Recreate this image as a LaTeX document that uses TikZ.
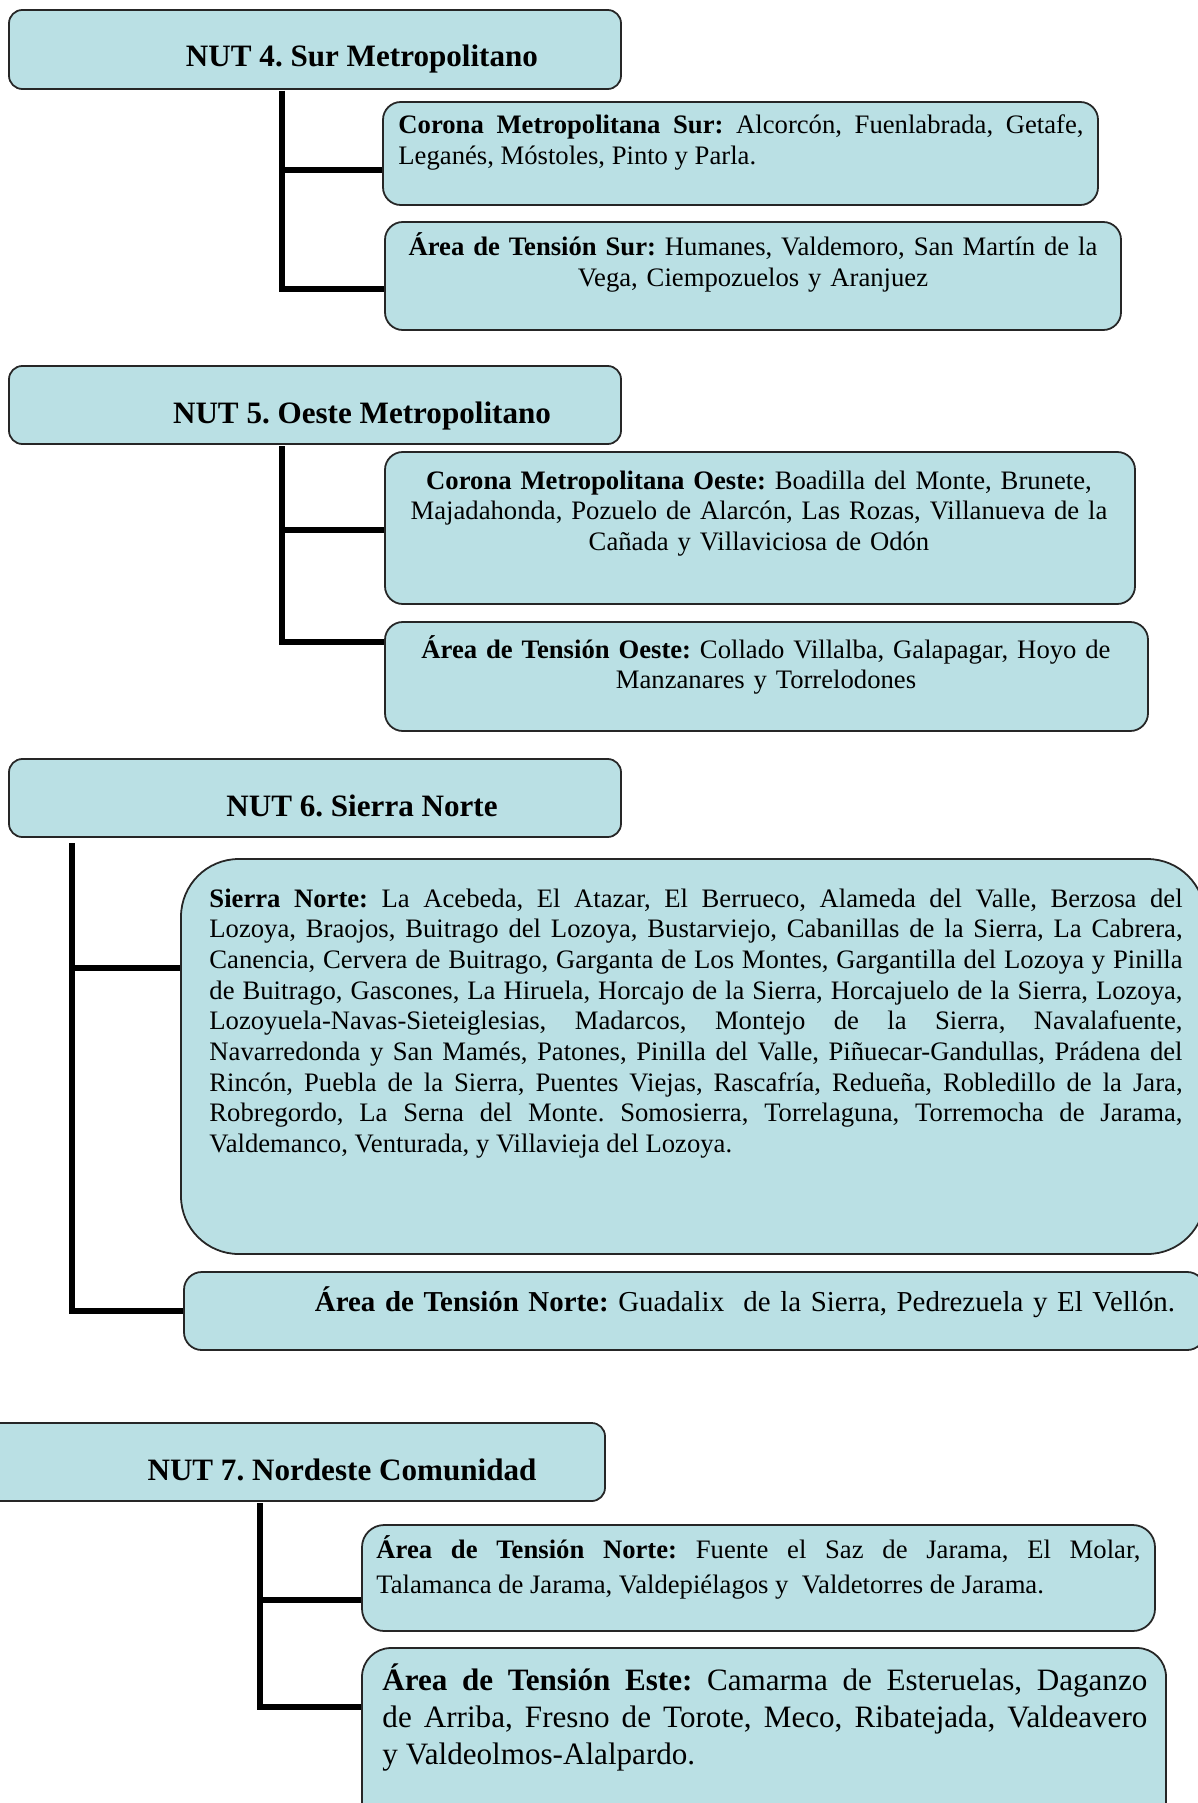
\documentclass[tikz,border=0pt]{standalone}
\usepackage{fontspec}
\setmainfont{Liberation Serif}
\usetikzlibrary{fit}
\definecolor{zonefill}{RGB}{186,224,228}
\frenchspacing

\begin{document}
\begin{tikzpicture}[x=0.45pt, y=-0.45pt,
    zone/.style={draw=black!85, line width=0.8pt, fill=zonefill, rounded corners=8pt, inner sep=0pt},
    nut/.style={zone, rounded corners=6pt},
    head/.style={font=\fontsize{14}{16.8}\selectfont\bfseries, anchor=base, inner sep=0pt},
    desc/.style={font=\fontsize{12}{13.8}\selectfont, anchor=base, inner sep=0pt, align=center, text width=#1},
    just/.style={font=\fontsize{12}{13.8}\selectfont, anchor=base west, inner sep=0pt, align=justify, text width=#1,
        execute at begin node={\hyphenpenalty=10000\tolerance=9000}},
    trunk/.style={line width=2.3pt}
]
\useasboundingbox (0,0) rectangle (1198,1803);
% NUT 4
\node[nut, fit={(9,10) (621,89)}] (nut4) {};
\node[head] (nut4t) at (362,67) {NUT 4. Sur Metropolitano};
\node[zone, fit={(383,102) (1098,205)}] (corS) {};
\node[just=308.3pt] (corSt) at (398,134) {\textbf{Corona Metropolitana Sur:} Alcorcón, Fuenlabrada, Getafe,\linebreak Leganés, Móstoles, Pinto y Parla.};
\node[zone, fit={(385,222) (1121,330)}] (tenS) {};
\node[desc=315pt] (tenSt) at (753,256) {\textbf{Área de Tensión Sur:} Humanes, Valdemoro, San Martín de la\\Vega, Ciempozuelos y Aranjuez};
\coordinate (top4) at (282,91);
\draw[trunk] (top4) |- (corS.west |- 0,170);
\draw[trunk] (top4) |- (tenS.west |- 0,289);
% NUT 5
\node[nut, fit={(9,366) (621,444)}] (nut5) {};
\node[head] (nut5t) at (362,423) {NUT 5. Oeste Metropolitano};
\node[zone, fit={(385,452) (1135,604)}] (corO) {};
\node[desc=330pt] (corOt) at (759,489) {\textbf{Corona Metropolitana Oeste:} Boadilla del Monte, Brunete,\\Majadahonda, Pozuelo de Alarcón, Las Rozas, Villanueva de la\\Cañada y Villaviciosa de Odón};
\node[zone, fit={(385,622) (1148,731)}] (tenO) {};
\node[desc=333pt] (tenOt) at (766,658) {\textbf{Área de Tensión Oeste:} Collado Villalba, Galapagar, Hoyo de\\Manzanares y Torrelodones};
\coordinate (top5) at (282,446);
\draw[trunk] (top5) |- (corO.west |- 0,530);
\draw[trunk] (top5) |- (tenO.west |- 0,642);
% NUT 6
\node[nut, fit={(9,759) (621,837)}] (nut6) {};
\node[head] (nut6t) at (362,816) {NUT 6. Sierra Norte};
\node[zone, rounded corners=26pt, fit={(181,859) (1205,1254)}] (sierra) {};
\node[just=437.9pt] (sierrat) at (209,907) {\textbf{Sierra Norte:} La Acebeda, El Atazar, El Berrueco, Alameda del Valle, Berzosa del\linebreak
Lozoya, Braojos, Buitrago del Lozoya, Bustarviejo, Cabanillas de la Sierra, La Cabrera,\linebreak
Canencia, Cervera de Buitrago, Garganta de Los Montes, Gargantilla del Lozoya y Pinilla\linebreak
de Buitrago, Gascones, La Hiruela, Horcajo de la Sierra, Horcajuelo de la Sierra, Lozoya,\linebreak
Lozoyuela-Navas-Sieteiglesias, Madarcos, Montejo de la Sierra, Navalafuente,\linebreak
Navarredonda y San Mamés, Patones, Pinilla del Valle, Piñuecar-Gandullas, Prádena del\linebreak
Rincón, Puebla de la Sierra, Puentes Viejas, Rascafría, Redueña, Robledillo de la Jara,\linebreak
Robregordo, La Serna del Monte. Somosierra, Torrelaguna, Torremocha de Jarama,\linebreak
Valdemanco, Venturada, y Villavieja del Lozoya.};
\node[zone, fit={(184,1272) (1205,1350)}] (tenN6) {};
\node[desc=420pt, font=\fontsize{13}{15}\selectfont] (tenN6t) at (745,1311) {\textbf{Área de Tensión Norte:} Guadalix\ \ de la Sierra, Pedrezuela y El Vellón.};
\coordinate (top6) at (72,843);
\draw[trunk] (top6) |- (sierra.west |- 0,968);
\draw[trunk] (top6) |- (tenN6.west |- 0,1311);
% NUT 7
\node[nut, fit={(-20,1423) (605,1501)}] (nut7) {};
\node[head] (nut7t) at (342,1480) {NUT 7. Nordeste Comunidad};
\node[zone, rounded corners=10pt, fit={(362,1525) (1155,1631)}] (tenN7) {};
\node[just=343.8pt, font=\fontsize{12}{16}\selectfont] (tenN7t) at (376,1558) {\textbf{Área de Tensión Norte:} Fuente el Saz de Jarama, El Molar,\linebreak Talamanca de Jarama, Valdepiélagos y\ \ Valdetorres de Jarama.};
\node[zone, rounded corners=13pt, fit={(362,1648) (1166,1840)}] (tenE) {};
\node[just=344.2pt, font=\fontsize{14}{16.8}\selectfont] (tenEt) at (382,1690) {\textbf{Área de Tensión Este:} Camarma de Esteruelas, Daganzo\linebreak de Arriba, Fresno de Torote, Meco, Ribatejada, Valdeavero\linebreak y Valdeolmos-Alalpardo.};
\coordinate (top7) at (260,1503);
\draw[trunk] (top7) |- (tenN7.west |- 0,1600);
\draw[trunk] (top7) |- (tenE.west |- 0,1707);
\end{tikzpicture}
\end{document}
